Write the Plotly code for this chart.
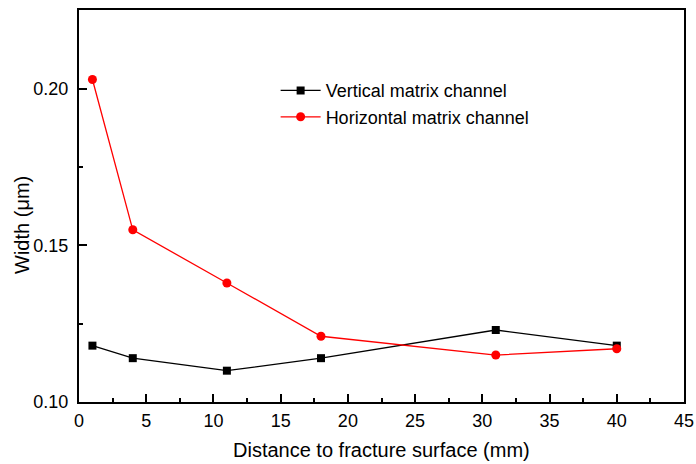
import plotly.graph_objects as go

distance = [1, 4, 11, 18, 31, 40]
vertical = [0.118, 0.114, 0.110, 0.114, 0.123, 0.118]
horizontal = [0.203, 0.155, 0.138, 0.121, 0.115, 0.117]
x_ticks = [0, 5, 10, 15, 20, 25, 30, 35, 40, 45]
y_ticks = [0.10, 0.15, 0.20]
y_tick_labels = ["0.10", "0.15", "0.20"]
x_title = "Distance to fracture surface (mm)"
y_title = "Width (μm)"

fig = go.Figure()
fig.add_trace(go.Scatter(x=distance, y=vertical, mode="lines+markers",
                         name="Vertical matrix channel",
                         line=dict(color="black", width=1.3),
                         marker=dict(symbol="square", size=8, color="black")))
fig.add_trace(go.Scatter(x=distance, y=horizontal, mode="lines+markers",
                         name="Horizontal matrix channel",
                         line=dict(color="red", width=1.3),
                         marker=dict(symbol="circle", size=9, color="red")))

font = dict(family="Liberation Sans, Arial, sans-serif", size=18, color="black")
fig.update_layout(
    width=696, height=464,
    margin=dict(l=79, r=12, t=10, b=62, autoexpand=False),
    plot_bgcolor="white", paper_bgcolor="white",
    font=font,
    showlegend=True,
    legend=dict(x=0.325, y=0.761, xanchor="left", yanchor="middle",
                bgcolor="rgba(0,0,0,0)", font=dict(size=18),
                itemwidth=40, tracegroupgap=0),
    xaxis=dict(range=[0, 45], tickvals=x_ticks, ticks="inside", ticklen=8,
               tickwidth=1.5, tickcolor="black", showline=True, linecolor="black",
               linewidth=2, mirror=True, showgrid=False, zeroline=False,
               automargin=False, ticklabelstandoff=1,
               minor=dict(dtick=2.5, ticks="inside", ticklen=4, tickcolor="black", tickwidth=1.5),
               tickfont=dict(size=18)),
    yaxis=dict(range=[0.10, 0.2252], tickvals=y_ticks, ticktext=y_tick_labels,
               ticks="inside", ticklen=8, tickwidth=1.5, tickcolor="black",
               showline=True, linecolor="black", linewidth=2, mirror=True,
               showgrid=False, zeroline=False, automargin=False, ticklabelstandoff=5,
               minor=dict(tickvals=[0.125, 0.175, 0.225], ticks="inside", ticklen=4,
                          tickcolor="black", tickwidth=1.5),
               tickfont=dict(size=18)),
    annotations=[
        dict(text=x_title, xref="paper", yref="paper", x=0.5, y=-0.122,
             xanchor="center", yanchor="middle", showarrow=False,
             font=dict(size=20)),
        dict(text=y_title, xref="paper", yref="paper", x=-0.094, y=0.452,
             xanchor="center", yanchor="middle", showarrow=False, textangle=-90,
             font=dict(size=20)),
    ],
)
fig.write_html("out.html", config={"displayModeBar": False},
               post_script="document.body.style.margin='0';document.body.style.overflow='hidden';")
